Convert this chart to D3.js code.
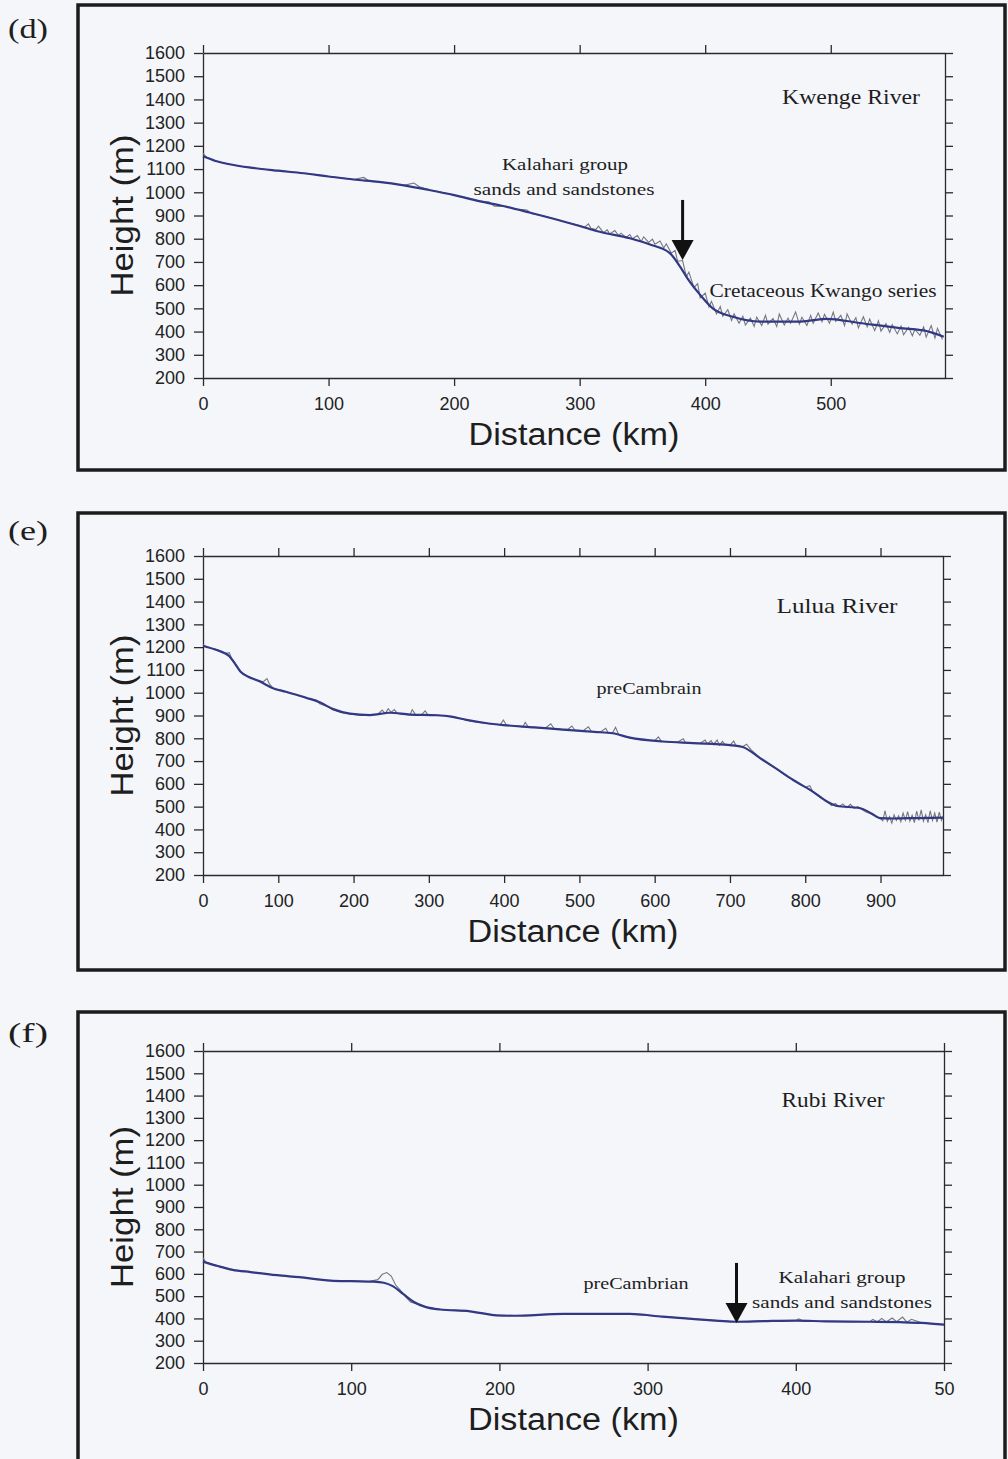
<!DOCTYPE html>
<html lang="en">
<head>
<meta charset="UTF-8">
<title>River long profiles</title>
<script src="https://d3js.org/d3.v7.min.js"></script>
<style>
  body { margin: 0; background: #f4f6fa; }
  svg { display: block; }
  .tick text { font-family: "Liberation Sans", Arial, sans-serif; font-size: 18px; fill: #222; }
  .tick line, .domain { stroke: #2a2a2a; stroke-width: 1.3; }
  .note { font-family: "Liberation Serif", "Times New Roman", serif; fill: #1e1e1e; }
  .axis-title { font-family: "Liberation Sans", Arial, sans-serif; font-size: 31px; fill: #1e1e1e; }
</style>
</head>
<body>
<svg id="chart" width="1008" height="1459"></svg>
<script>
// ---- data ----
const heightTicks = [200, 300, 400, 500, 600, 700, 800, 900, 1000, 1100, 1200, 1300, 1400, 1500, 1600];

const kwengeTicks = [0, 100, 200, 300, 400, 500];
const kwengeTickLabels = ["0", "100", "200", "300", "400", "500"];
// smoothed profile [km, m]
const kwengeSmooth = [
  [0, 1155], [10, 1135], [20, 1122], [40, 1105], [60, 1093], [80, 1082], [100, 1068], [120, 1055],
  [140, 1045], [160, 1030], [180, 1010], [200, 988], [220, 962], [240, 940], [260, 913], [280, 885],
  [300, 855], [316, 830], [340, 802], [356, 775], [372, 737], [380, 680], [386, 628], [396, 558],
  [406, 500], [422, 464], [444, 443], [476, 443], [497, 455], [523, 437], [555, 415], [574, 405], [590, 378]
];
// raw profile [km, m]
const kwengeRaw = [
  [0, 1168], [3, 1150], [6, 1145], [10, 1135], [15, 1128], [20, 1122], [30, 1112], [40, 1105],
  [50, 1098], [60, 1093], [70, 1088], [80, 1082], [90, 1076], [100, 1068], [110, 1062], [120, 1055],
  [128, 1064], [132, 1050], [140, 1045], [150, 1038], [160, 1030], [168, 1040], [172, 1025], [180, 1010],
  [190, 1000], [200, 988], [210, 976], [220, 962], [228, 958], [232, 940], [240, 940], [250, 928],
  [258, 924], [262, 908], [270, 900], [280, 885], [290, 870], [300, 857], [304, 850], [307, 864],
  [309, 845], [313, 840], [315, 854], [319, 826], [322, 838], [324, 820], [328, 835], [331, 814],
  [333, 824], [337, 805], [340, 818], [342, 800], [346, 814], [349, 788], [351, 808], [355, 784],
  [358, 798], [360, 776], [364, 790], [367, 760], [369, 778], [373, 738], [376, 750], [378, 703],
  [382, 706], [385, 636], [387, 656], [391, 590], [394, 606], [396, 545], [400, 566], [403, 506],
  [405, 530], [409, 476], [412, 508], [414, 466], [418, 494], [421, 448], [423, 476], [427, 436],
  [430, 466], [432, 428], [436, 458], [439, 422], [441, 462], [445, 426], [448, 470], [450, 432],
  [454, 456], [457, 422], [459, 476], [463, 428], [466, 458], [468, 436], [472, 484], [475, 432],
  [477, 462], [481, 426], [484, 470], [486, 436], [490, 480], [493, 442], [495, 474], [499, 436],
  [502, 484], [504, 444], [508, 470], [511, 426], [513, 476], [517, 432], [520, 460], [522, 416],
  [526, 464], [529, 420], [531, 454], [535, 404], [538, 446], [540, 402], [544, 434], [547, 396],
  [549, 430], [553, 390], [556, 424], [558, 386], [562, 418], [565, 382], [567, 410], [571, 384],
  [574, 420], [576, 376], [580, 426], [583, 372], [585, 414], [589, 366]
];

const luluaTicks = [0, 100, 200, 300, 400, 500, 600, 700, 800, 900];
const luluaTickLabels = ["0", "100", "200", "300", "400", "500", "600", "700", "800", "900"];
const luluaSmooth = [
  [0, 1205], [20, 1185], [35, 1160], [42, 1130], [50, 1092], [60, 1070], [75, 1050], [93, 1020],
  [110, 1004], [138, 977], [155, 958], [173, 928], [195, 908], [222, 902], [248, 912], [275, 904],
  [310, 901], [330, 895], [350, 881], [375, 867], [399, 858], [440, 848], [478, 838], [520, 828],
  [544, 822], [567, 803], [611, 786], [651, 779], [700, 770], [717, 762], [740, 713], [760, 670],
  [784, 617], [810, 566], [830, 520], [842, 503], [872, 494], [888, 470], [899, 450], [917, 448],
  [950, 450], [983, 452]
];
const luluaRaw = [
  [0, 1210], [10, 1195], [20, 1188], [30, 1172], [35, 1176], [38, 1150], [42, 1132], [50, 1090],
  [60, 1072], [70, 1058], [80, 1048], [85, 1062], [88, 1040], [93, 1020], [110, 1005], [125, 990],
  [138, 975], [150, 968], [155, 952], [165, 940], [173, 924], [185, 912], [195, 907], [210, 900],
  [222, 902], [232, 905], [238, 924], [242, 908], [246, 930], [250, 914], [254, 926], [258, 910],
  [265, 905], [275, 903], [278, 926], [282, 905], [290, 902], [295, 920], [299, 902], [310, 902],
  [325, 897], [337, 890], [345, 884], [355, 876], [370, 868], [385, 862], [395, 860], [399, 880],
  [403, 858], [415, 855], [425, 850], [428, 870], [432, 850], [440, 848], [455, 845], [462, 864],
  [466, 844], [478, 838], [485, 840], [490, 854], [494, 836], [505, 833], [512, 850], [516, 830],
  [528, 828], [535, 844], [538, 825], [544, 823], [548, 848], [552, 818], [560, 808], [567, 801],
  [580, 795], [590, 792], [600, 790], [605, 806], [609, 786], [620, 784], [630, 783], [638, 798],
  [641, 780], [651, 779], [660, 777], [667, 792], [670, 775], [675, 790], [678, 772], [683, 792],
  [686, 770], [690, 786], [694, 770], [700, 770], [705, 788], [708, 768], [717, 763], [722, 774],
  [728, 750], [740, 713], [750, 690], [760, 670], [770, 646], [784, 617], [792, 600], [800, 585],
  [806, 592], [810, 566], [820, 540], [830, 520], [835, 505], [840, 514], [845, 500], [850, 512],
  [855, 495], [860, 510], [865, 493], [870, 500], [875, 488], [880, 478], [888, 468], [895, 455],
  [899, 450], [903, 438], [906, 482], [909, 436], [912, 456], [915, 428], [918, 464], [921, 440],
  [924, 460], [927, 434], [930, 472], [933, 440], [936, 478], [939, 436], [942, 462], [945, 430],
  [948, 480], [951, 440], [954, 486], [957, 436], [960, 464], [963, 430], [966, 482], [969, 440],
  [972, 472], [975, 432], [978, 476], [981, 440], [983, 456]
];

const rubiTicks = [0, 100, 200, 300, 400, 500];
const rubiTickLabels = ["0", "100", "200", "300", "400", "50"];
const rubiSmooth = [
  [0, 655], [10, 635], [20, 618], [32, 608], [50, 594], [65, 585], [86, 570], [100, 567],
  [115, 565], [122, 560], [128, 545], [135, 510], [142, 475], [150, 452], [160, 440], [180, 432],
  [198, 414], [210, 412], [243, 420], [288, 420], [310, 408], [330, 398], [360, 385], [380, 388],
  [400, 390], [420, 387], [450, 385], [470, 383], [485, 380], [500, 372]
];
const rubiRaw = [
  [0, 672], [2, 652], [10, 636], [20, 618], [32, 608], [50, 594], [65, 585], [86, 570], [100, 567],
  [112, 566], [118, 574], [121, 598], [124, 606], [127, 590], [130, 550], [133, 528], [136, 502],
  [140, 474], [150, 452], [160, 440], [180, 432], [198, 414], [210, 412], [243, 420], [288, 420],
  [310, 408], [330, 398], [360, 385], [380, 388], [400, 390], [402, 398], [405, 388], [420, 387],
  [450, 385], [452, 396], [455, 384], [458, 400], [461, 384], [465, 402], [468, 385], [472, 406],
  [475, 383], [478, 396], [485, 380], [500, 372]
];

// ---- layout ----
const panels = [
  {
    tag: "(d)", tagY: 38, frame: [78, 5, 927, 465],
    left: 203, right: 945, top: 53, bottom: 378, xMax: 591,
    ticks: kwengeTicks, tickLabels: kwengeTickLabels, smooth: kwengeSmooth, raw: kwengeRaw,
    notes: [
      { text: "Kwenge River", x: 851, y: 104, size: 21, len: 138 },
      { text: "Kalahari group", x: 565, y: 170, size: 17.5, len: 126 },
      { text: "sands and sandstones", x: 564, y: 195, size: 17.5, len: 181 },
      { text: "Cretaceous Kwango series", x: 823, y: 297, size: 18, len: 227 }
    ],
    arrows: [{ km: 382, from: 967, to: 708 }]
  },
  {
    tag: "(e)", tagY: 540, frame: [78, 513, 927, 457],
    left: 203, right: 943, top: 556, bottom: 875, xMax: 983,
    ticks: luluaTicks, tickLabels: luluaTickLabels, smooth: luluaSmooth, raw: luluaRaw,
    notes: [
      { text: "Lulua River", x: 837, y: 613, size: 21, len: 121 },
      { text: "preCambrain", x: 649, y: 694, size: 16, len: 105 }
    ],
    arrows: []
  },
  {
    tag: "(f)", tagY: 1042, frame: [78, 1012, 927, 470],
    left: 203, right: 944, top: 1051, bottom: 1363, xMax: 500,
    ticks: rubiTicks, tickLabels: rubiTickLabels, smooth: rubiSmooth, raw: rubiRaw,
    notes: [
      { text: "Rubi River", x: 833, y: 1107, size: 21, len: 103 },
      { text: "preCambrian", x: 636, y: 1289, size: 16, len: 105 },
      { text: "Kalahari group", x: 842, y: 1283, size: 17.5, len: 127 },
      { text: "sands and sandstones", x: 842, y: 1308, size: 17.5, len: 180 }
    ],
    arrows: [{ km: 360, from: 649, to: 380 }]
  }
];

const svg = d3.select("#chart");

function drawPanel(p) {
  const g = svg.append("g");

  g.append("rect")
    .attr("x", p.frame[0]).attr("y", p.frame[1])
    .attr("width", p.frame[2]).attr("height", p.frame[3])
    .attr("fill", "none").attr("stroke", "#1c1c1c").attr("stroke-width", 3.5);

  g.append("text").attr("class", "note")
    .attr("x", 8).attr("y", p.tagY)
    .attr("font-size", 27).attr("textLength", 40).attr("lengthAdjust", "spacingAndGlyphs")
    .text(p.tag);

  const x = d3.scaleLinear().domain([0, p.xMax]).range([p.left, p.right]);
  const y = d3.scaleLinear().domain([200, 1600]).range([p.bottom, p.top]);

  g.append("g").attr("transform", `translate(0,${p.bottom})`)
    .call(d3.axisBottom(x).tickValues(p.ticks).tickFormat((d, i) => p.tickLabels[i])
      .tickSizeInner(8).tickSizeOuter(0).tickPadding(11));
  g.append("g").attr("transform", `translate(0,${p.top})`)
    .call(d3.axisTop(x).tickValues(p.ticks).tickFormat("").tickSizeInner(8).tickSizeOuter(0));
  g.append("g").attr("transform", `translate(${p.left},0)`)
    .call(d3.axisLeft(y).tickValues(heightTicks).tickFormat(d3.format("d"))
      .tickSizeInner(9).tickSizeOuter(0).tickPadding(9));
  g.append("g").attr("transform", `translate(${p.right},0)`)
    .call(d3.axisRight(y).tickValues(heightTicks).tickFormat("").tickSizeInner(8).tickSizeOuter(0));

  const line = d3.line().x(d => x(d[0])).y(d => y(d[1]));

  g.append("path").datum(p.raw)
    .attr("d", line)
    .attr("fill", "none").attr("stroke", "#75777e").attr("stroke-width", 1.1);

  g.append("path").datum(p.smooth)
    .attr("d", line.curve(d3.curveMonotoneX))
    .attr("fill", "none").attr("stroke", "#323883").attr("stroke-width", 2.2);

  // axis titles
  g.append("text").attr("class", "axis-title")
    .attr("text-anchor", "middle")
    .attr("x", (p.left + p.right) / 2).attr("y", p.bottom + 67)
    .attr("textLength", 211).attr("lengthAdjust", "spacingAndGlyphs")
    .text("Distance (km)");
  g.append("text").attr("class", "axis-title")
    .attr("text-anchor", "middle")
    .attr("transform", `translate(133,${(p.top + p.bottom) / 2}) rotate(-90)`)
    .attr("textLength", 162).attr("lengthAdjust", "spacingAndGlyphs")
    .text("Height (m)");

  p.notes.forEach(n => {
    g.append("text").attr("class", "note")
      .attr("text-anchor", "middle")
      .attr("x", n.x).attr("y", n.y)
      .attr("font-size", n.size)
      .attr("textLength", n.len).attr("lengthAdjust", "spacingAndGlyphs")
      .text(n.text);
  });

  p.arrows.forEach(a => {
    const ax = x(a.km), y0 = y(a.from), y1 = y(a.to);
    g.append("line")
      .attr("x1", ax).attr("x2", ax).attr("y1", y0).attr("y2", y1 - 16)
      .attr("stroke", "#111").attr("stroke-width", 3);
    g.append("path")
      .attr("d", `M${ax - 11},${y1 - 20}L${ax + 11},${y1 - 20}L${ax},${y1}Z`)
      .attr("fill", "#111");
  });
}

panels.forEach(drawPanel);
</script>
</body>
</html>
